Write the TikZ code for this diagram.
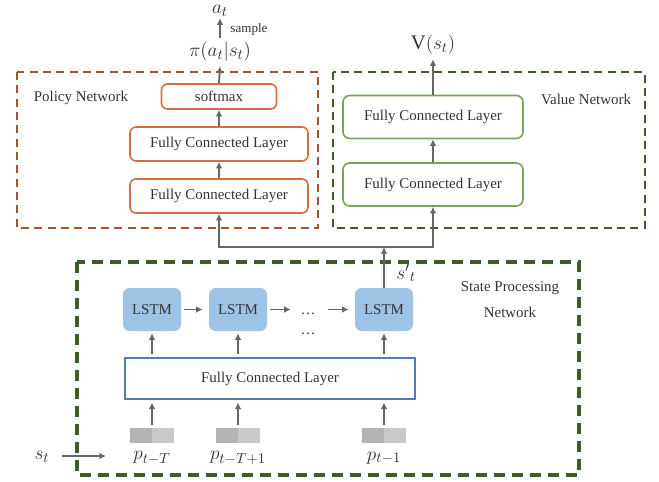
\documentclass[tikz,border=0pt]{standalone}
\usepackage{fontspec}
\setmainfont{Liberation Serif}
\usepackage{amsmath}
\usetikzlibrary{arrows.meta}

\definecolor{polorange}{HTML}{D46F3C}
\definecolor{polbrown}{HTML}{9C5630}
\definecolor{valgreen}{HTML}{77A35A}
\definecolor{dashgreen}{HTML}{3D5C2A}
\definecolor{lstmblue}{HTML}{9DC3E6}
\definecolor{fcblue}{HTML}{4F7FB0}
\definecolor{arrowgray}{HTML}{666666}
\definecolor{textgray}{HTML}{333333}
\definecolor{indark}{HTML}{B3B3B3}
\definecolor{inlight}{HTML}{C9C9C9}

\begin{document}
\begin{tikzpicture}[x=0.75pt,y=-0.75pt,
    txt/.style={font=\fontsize{11.2}{13}\selectfont, text=textgray},
    mth/.style={font=\fontsize{15.5}{17}\selectfont, text=textgray},
    arr/.style={-{Latex[length=5pt,width=5pt]}, draw=arrowgray, line width=1.4pt},
    polfc/.style={txt, draw=polorange, line width=1.2pt, rounded corners=4.5pt,
        minimum width=133.5pt, minimum height=25.5pt, inner sep=0pt},
    valfc/.style={txt, draw=valgreen, line width=1.2pt, rounded corners=5pt,
        minimum width=135pt, minimum height=32.25pt, inner sep=0pt},
    lstm/.style={txt, fill=lstmblue, rounded corners=5pt,
        minimum width=43.5pt, minimum height=32.25pt, inner sep=0pt},
    inbox/.style={fill=inlight, minimum width=33pt, minimum height=11.25pt, inner sep=0pt,
        path picture={\fill[indark] (path picture bounding box.south west)
            rectangle (path picture bounding box.north);}}]

    \useasboundingbox (0,0) rectangle (659,481);

    %frames
    \draw[polbrown, line width=2pt, dash pattern=on 6pt off 4pt] (17,72) rectangle (318,228);
    \draw[dashgreen, line width=2pt, dash pattern=on 6pt off 4pt] (333,72) rectangle (645,228);
    \draw[dashgreen, line width=2.4pt, dash pattern=on 8pt off 5.5pt] (77,262) rectangle (579,475);

    %policy network
    \node[txt] at (81,98) {Policy Network};
    \node[polfc] (polfcb) at (219,196) {Fully Connected Layer};
    \node[polfc] (polfca) at (219,144) {Fully Connected Layer};
    \node[polfc, minimum width=86.25pt, minimum height=18.75pt] (softmax) at (219,96.5) {softmax};
    \node[mth] (pi) at (220,52) {$\pi(a_t|s_t)$};
    \node[mth, inner sep=1pt] (at) at (220,11) {$a_t$};
    \node[txt, font=\fontsize{9.8}{11}\selectfont] at (249,29) {sample};
    \draw[arr] (polfcb.north) -- (polfca.south);
    \draw[arr] (polfca.north) -- (softmax.south);
    \draw[arr] (softmax.north) -- (pi.south);
    \draw[arr] (pi.north) -- (at.south);

    %value network
    \node[txt] at (586,99) {Value Network};
    \node[valfc] (valfcb) at (433,184.5) {Fully Connected Layer};
    \node[valfc] (valfca) at (433,117) {Fully Connected Layer};
    \node[mth] (V) at (433,45) {$\mathrm{V}(s_t)$};
    \draw[arr] (valfcb.north) -- (valfca.south);
    \draw[arr] (valfca.north) -- (V.south);

    %state processing network
    \node[txt, align=center, font=\fontsize{11.2}{19.5}\selectfont] at (510,300) {State Processing\\Network};
    \node[draw=fcblue, line width=1.2pt, txt, minimum width=217.5pt, minimum height=30.75pt,
        inner sep=0pt] (fcs) at (270,378.5) {Fully Connected Layer};
    \foreach \n/\x/\lab in {1/152/{p_{t-T}}, 2/238/{p_{t-T+1}}, 3/384/{p_{t-1}}}{
        \node[lstm] (lstm\n) at (\x,309.5) {LSTM};
        \node[inbox] (in\n) at (\x,435.5) {};
        \node[mth] (p\n) at (\x,458) {$\lab$};
        \draw[arr, shorten <=2.25pt, shorten >=2pt] (in\n.north) -- (in\n.north |- fcs.south);
        \draw[arr, shorten <=2.25pt, shorten >=1.5pt] (lstm\n |- fcs.north) -- (lstm\n.south);
    }
    \node[txt] (dotsa) at (308,314) {\ldots};
    \node[txt] (dotsb) at (308,334) {\ldots};
    \draw[arr, shorten <=2.25pt, shorten >=4.5pt] (lstm1.east) -- (lstm2.west);
    \draw[arr, shorten <=2.25pt, shorten >=3.75pt] (lstm2.east) -- (lstm2.east -| dotsa.west);
    \draw[arr, shorten <=6pt, shorten >=4.5pt] (dotsa.east |- lstm3.west) -- (lstm3.west);

    %input
    \node[mth] (st) at (42,457) {$s_t$};
    \coordinate (stend) at (106,456);
    \draw[arr] (st.east |- stend) ++(8,0) -- (stend);

    %merge
    \node[mth] at (406,273) {${s'}_t$};
    \coordinate (split) at (384,247);
    \draw[arr] (lstm3.north) -- (split);
    \draw[arr] (split) -| (polfcb.south);
    \draw[arr] (split) -| (valfcb.south);

\end{tikzpicture}
\end{document}
